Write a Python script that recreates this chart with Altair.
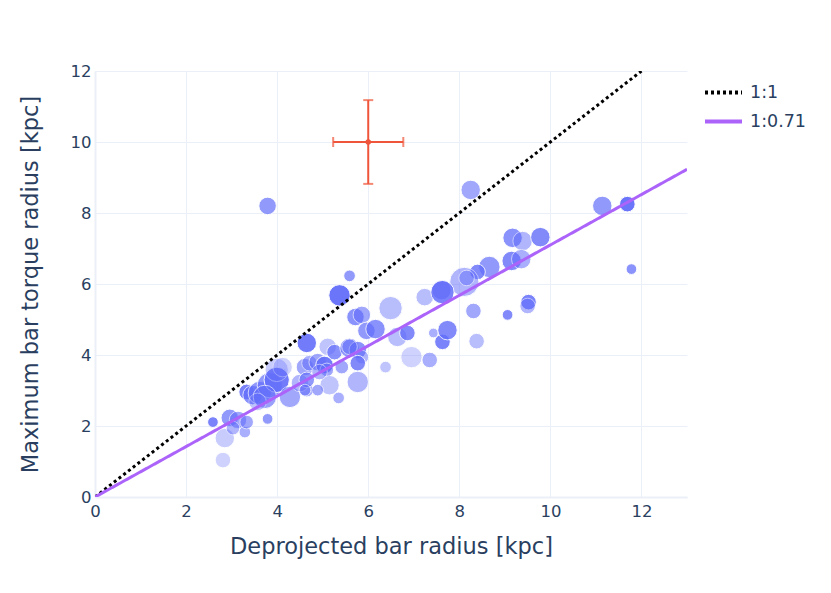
import altair as alt
import pandas as pd

# Galaxy bars: deprojected radius (kpc), max torque radius (kpc), marker diameter, opacity
bar_r = [2.59, 2.81, 2.85, 2.96, 3.14, 3.29, 3.03, 3.33, 3.79, 3.33, 3.46, 3.62, 3.84, 3.99, 3.99,
         4.12, 3.73, 4.28, 3.57, 4.61, 4.65, 4.50, 3.79,
         4.65, 5.11, 5.26, 5.59, 5.77, 5.86, 4.71, 4.89, 5.04, 5.09, 5.77, 5.77, 5.15, 4.65, 4.61,
         4.89, 5.35, 6.38, 4.93, 5.42, 5.59,
         5.59, 5.37, 5.72, 5.86, 6.49, 5.96, 6.16, 6.64, 6.86, 6.95, 7.35, 7.24, 7.61, 7.63, 7.43,
         8.25, 11.14, 11.69, 11.78, 9.17, 9.39, 9.78, 9.15, 9.36, 8.66, 8.40, 8.11, 8.16, 7.63,
         8.31, 9.06, 9.52, 9.50, 8.38, 7.74]
torque_r = [2.11, 1.04, 1.66, 2.23, 2.17, 1.83, 1.94, 2.11, 2.20, 2.96, 2.87, 2.93, 3.15, 3.30, 3.58,
            3.66, 2.82, 2.82, 2.68, 3.66, 3.01, 3.21, 8.20,
            4.34, 4.23, 4.08, 4.20, 4.14, 3.94, 3.77, 3.80, 3.72, 3.58, 3.77, 3.24, 3.15, 3.30, 3.01,
            3.01, 2.79, 3.66, 3.52, 3.66, 4.23,
            6.23, 5.68, 5.07, 5.13, 5.32, 4.68, 4.73, 4.51, 4.62, 3.94, 3.86, 5.63, 5.83, 4.37, 4.62,
            8.65, 8.20, 8.25, 6.42, 7.30, 7.21, 7.32, 6.65, 6.70, 6.48, 6.34, 6.06, 6.17, 5.77,
            5.24, 5.13, 5.49, 5.38, 4.39, 4.70]
marker_d = [11, 16, 20, 18, 18, 12, 14, 14, 11, 16, 20, 24, 26, 26, 24,
            20, 24, 22, 18, 18, 14, 18, 18,
            20, 18, 16, 20, 18, 14, 16, 18, 18, 14, 16, 22, 20, 16, 12,
            12, 12, 12, 16, 14, 16,
            12, 22, 18, 18, 24, 18, 20, 20, 16, 22, 16, 18, 20, 16, 10,
            20, 20, 16, 11, 20, 20, 20, 20, 20, 22, 16, 30, 16, 24,
            16, 11, 16, 16, 16, 20]
marker_a = [0.85, 0.3, 0.35, 0.7, 0.6, 0.55, 0.5, 0.6, 0.7, 0.85, 0.75, 0.7, 0.7, 0.9, 0.35,
            0.3, 0.65, 0.6, 0.4, 0.6, 0.55, 0.5, 0.7,
            0.9, 0.4, 0.75, 0.7, 0.75, 0.5, 0.55, 0.6, 0.9, 0.6, 0.8, 0.5, 0.4, 0.7, 0.6,
            0.6, 0.55, 0.4, 0.5, 0.6, 0.55,
            0.7, 0.95, 0.75, 0.6, 0.45, 0.7, 0.75, 0.45, 0.8, 0.3, 0.55, 0.45, 0.75, 0.85, 0.55,
            0.6, 0.7, 0.95, 0.75, 0.75, 0.5, 0.8, 0.8, 0.55, 0.7, 0.8, 0.5, 0.5, 0.85,
            0.6, 0.8, 0.85, 0.5, 0.45, 0.8]

# Reference lines
line_names = ["1:1", "1:1", "1:0.71", "1:0.71"]
line_x = [0, 12, 0, 13]
line_y = [0, 12, 0, 9.23]

# Typical error bar
err_center_x = [6.0]
err_center_y = [10.0]
err_x = [0.77]
err_y = [1.18]

TXT = "#2a3f5f"
GRID = "#ebf0f8"
FONT = "DejaVu Sans"

pts = pd.DataFrame({"x": bar_r, "y": torque_r, "d": marker_d, "a": marker_a})
lines = pd.DataFrame({"name": line_names, "x": line_x, "y": line_y})
err = pd.DataFrame({"x": err_center_x, "y": err_center_y, "ex": err_x, "ey": err_y})

xs = alt.Scale(domain=[0, 13], nice=False, zero=False)
ys = alt.Scale(domain=[0, 12], nice=False, zero=False)

xax = alt.Axis(title="Deprojected bar radius [kpc]", values=[0, 2, 4, 6, 8, 10, 12],
               grid=True, gridColor=GRID, domainColor=GRID, domainWidth=2, ticks=False,
               labelFontSize=16.5, labelColor=TXT, labelFont=FONT, labelPadding=6, labelFlush=False,
               titleFontSize=22.5, titleColor=TXT, titleFont=FONT, titleFontWeight="normal",
               titlePadding=16)
yax = alt.Axis(title="Maximum bar torque radius [kpc]", values=[0, 2, 4, 6, 8, 10, 12],
               grid=True, gridColor=GRID, domainColor=GRID, domainWidth=2, ticks=False,
               labelFontSize=16.5, labelColor=TXT, labelFont=FONT, labelPadding=4, labelFlush=False,
               titleFontSize=22.5, titleColor=TXT, titleFont=FONT, titleFontWeight="normal",
               titlePadding=28)

base_pts = alt.Chart(pts).transform_calculate(area="datum.d * datum.d * 0.95")
scatter = base_pts.mark_circle(color="#636efa", stroke="white", strokeWidth=1).encode(
    x=alt.X("x:Q", scale=xs, axis=xax),
    y=alt.Y("y:Q", scale=ys, axis=yax),
    size=alt.Size("area:Q", scale=None, legend=None),
    opacity=alt.Opacity("a:Q", scale=None, legend=None),
)

leg = alt.Legend(title=None, orient="none", legendX=608, legendY=1,
                 symbolType="stroke", symbolSize=1369, symbolStrokeWidth=4,
                 labelFontSize=17.5, labelColor=TXT, labelFont=FONT,
                 rowPadding=-10, labelOffset=6)
line_chart = alt.Chart(lines).mark_line(clip=True).encode(
    x=alt.X("x:Q", scale=xs),
    y=alt.Y("y:Q", scale=ys),
    color=alt.Color("name:N", scale=alt.Scale(domain=["1:1", "1:0.71"], range=["#000000", "#ab63fa"]),
                    legend=leg),
    strokeDash=alt.StrokeDash("name:N", scale=alt.Scale(domain=["1:1", "1:0.71"], range=[[3, 3], [1, 0]]),
                              legend=leg),
    strokeWidth=alt.value(3),
    order=alt.Order("x:Q"),
)

ebase = alt.Chart(err).transform_calculate(
    x_lo="datum.x - datum.ex", x_hi="datum.x + datum.ex",
    y_lo="datum.y - datum.ey", y_hi="datum.y + datum.ey")
red = "#ef553b"
hrule = ebase.mark_rule(color=red, strokeWidth=2).encode(
    x=alt.X("x_lo:Q", scale=xs), x2="x_hi:Q", y=alt.Y("y:Q", scale=ys))
vrule = ebase.mark_rule(color=red, strokeWidth=2).encode(
    x=alt.X("x:Q", scale=xs), y=alt.Y("y_lo:Q", scale=ys), y2="y_hi:Q")
cap_lo_x = ebase.mark_tick(color=red, thickness=2, size=10, orient="vertical").encode(
    x=alt.X("x_lo:Q", scale=xs), y=alt.Y("y:Q", scale=ys))
cap_hi_x = ebase.mark_tick(color=red, thickness=2, size=10, orient="vertical").encode(
    x=alt.X("x_hi:Q", scale=xs), y=alt.Y("y:Q", scale=ys))
cap_lo_y = ebase.mark_tick(color=red, thickness=2, size=10, orient="horizontal").encode(
    x=alt.X("x:Q", scale=xs), y=alt.Y("y_lo:Q", scale=ys))
cap_hi_y = ebase.mark_tick(color=red, thickness=2, size=10, orient="horizontal").encode(
    x=alt.X("x:Q", scale=xs), y=alt.Y("y_hi:Q", scale=ys))
center = ebase.mark_circle(color=red, opacity=1, size=30).encode(
    x=alt.X("x:Q", scale=xs), y=alt.Y("y:Q", scale=ys))

chart = alt.layer(scatter, line_chart, hrule, vrule, cap_lo_x, cap_hi_x, cap_lo_y, cap_hi_y, center).properties(
    width=592, height=426,
    autosize=alt.AutoSizeParams(type="none"),
    padding={"left": 87, "top": 63, "right": 136, "bottom": 88},
).configure(background="white").configure_view(strokeWidth=0)

chart.save("out.html", embed_options={"renderer": "svg", "actions": False})
